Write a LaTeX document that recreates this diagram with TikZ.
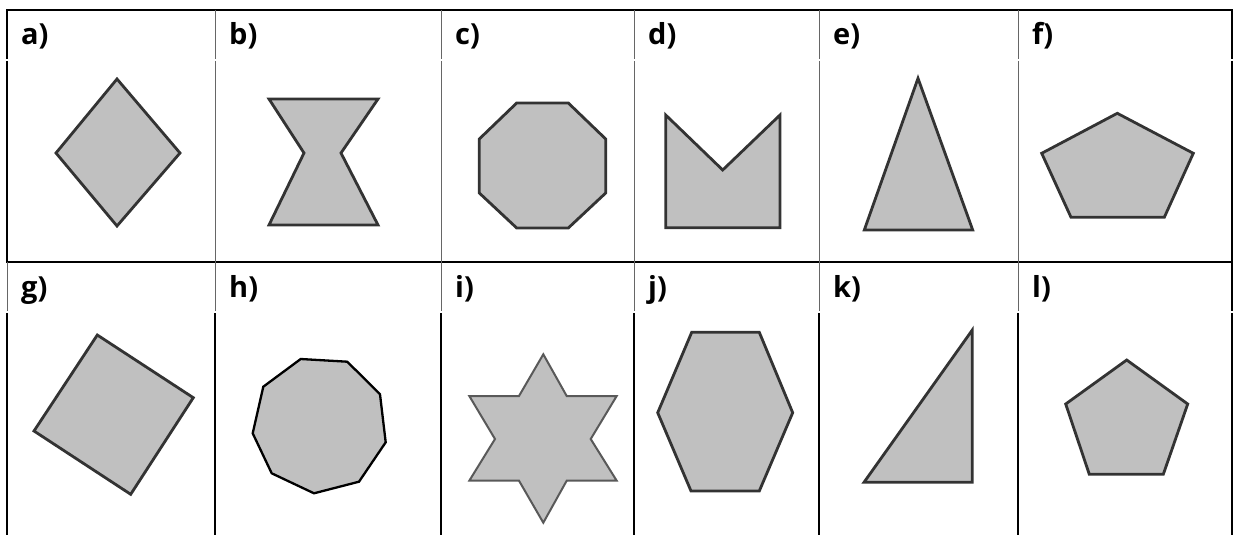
\documentclass[tikz,border=0pt]{standalone}
\usepackage{fontspec}
\usepackage{tikz}
\usepackage{xcolor}
\newfontfamily\rotulofonte{Open Sans}
\definecolor{cinza}{RGB}{192,192,192}
\definecolor{contorno}{RGB}{51,51,51}
\tikzset{
    poligono/.style={draw=contorno, fill=cinza, line width=2.8pt},
    rotulo/.style={anchor=base west, inner sep=0pt, font=\rotulofonte\bfseries\fontsize{29}{31}\selectfont},
    grossa/.style={draw=black, line width=2pt},
    fina/.style={draw=black!60, line width=1pt}
}
\begin{document}
\begin{tikzpicture}[x=1pt, y=-1pt]
    \useasboundingbox (0,0) rectangle (1234,535);
    \draw[grossa] (6,10) -- (1233,10);
    \draw[grossa] (6,262) -- (1233,262);
    \draw[grossa] (7,10) -- (7,59) (7,61) -- (7,262);
    \draw[grossa] (1232,10) -- (1232,59) (1232,61) -- (1232,311) (1232,313) -- (1232,535);
    \draw[fina] (215,10) -- (215,59) (215,61) -- (215,262) (441,10) -- (441,59) (441,61) -- (441,262)
        (634,10) -- (634,59) (634,61) -- (634,262) (819,10) -- (819,59) (819,61) -- (819,262)
        (1018,10) -- (1018,59) (1018,61) -- (1018,262);
    \draw[fina] (7,262) -- (7,311) (215,262) -- (215,311) (441,262) -- (441,311)
        (634,262) -- (634,311) (819,262) -- (819,311) (1018,262) -- (1018,311);
    \draw[grossa] (7,313) -- (7,535) (215,313) -- (215,535) (441,313) -- (441,535)
        (634,313) -- (634,535) (819,313) -- (819,535) (1018,313) -- (1018,535);
    \node[rotulo] (la) at (21,45) {a)};
    \node[rotulo] (lb) at (229,45) {b)};
    \node[rotulo] (lc) at (455,45) {c)};
    \node[rotulo] (ld) at (648,45) {d)};
    \node[rotulo] (le) at (833,45) {e)};
    \node[rotulo] (lf) at (1032,45) {f)};
    \node[rotulo] (lg) at (21,297) {g)};
    \node[rotulo] (lh) at (229,297) {h)};
    \node[rotulo] (li) at (455,297) {i)};
    \node[rotulo] (lj) at (648,297) {j)};
    \node[rotulo] (lk) at (833,297) {k)};
    \node[rotulo] (ll) at (1032,297) {l)};
    \draw[poligono] (117,79) -- (180,153) -- (117,226) -- (56,153) -- cycle;
    \draw[poligono] (269,99) -- (378,99) -- (341,153) -- (378,225) -- (269,225) -- (304,153) -- cycle;
    \draw[poligono] (516.7,103) -- (568.3,103) -- (605.7,139) -- (605.7,193) -- (568.3,228)
        -- (516.7,228) -- (479.3,193) -- (479.3,139) -- cycle;
    \draw[poligono] (665.7,115) -- (722.7,170) -- (780,115) -- (780,227.7) -- (665.7,227.7) -- cycle;
    \draw[poligono] (918,78.3) -- (972.7,230) -- (864.3,230) -- cycle;
    \draw[poligono] (1117.3,113.3) -- (1193.3,153.3) -- (1164.3,217.3) -- (1071,217.3) -- (1041.7,153.3) -- cycle;
    \draw[poligono] (97.3,335) -- (193.3,397.7) -- (130.7,494.3) -- (34,431) -- cycle;
    \draw[poligono, draw=black, line width=2.3pt] (300.7,359) -- (347.3,361.7) -- (380,394.3) -- (385.7,442.3)
        -- (359,481.7) -- (314,493.3) -- (271.7,473.3) -- (252.7,433.3) -- (263.3,386.7) -- cycle;
    \draw[poligono, draw=black!65, line width=2pt] (543.3,354.3) -- (566.7,396) -- (616.7,396) -- (590.7,439)
        -- (616.7,480.7) -- (566.7,480.7) -- (543.3,522.7) -- (519,480.7) -- (469.3,480.7)
        -- (495,439) -- (469.3,396) -- (519,396) -- cycle;
    \draw[poligono] (691.7,332.3) -- (759.3,332.3) -- (792.7,412.7) -- (759.3,491) -- (691,491) -- (657.7,412.7) -- cycle;
    \draw[poligono] (972.3,330) -- (972.3,482.3) -- (864,482.3) -- cycle;
    \draw[poligono] (1126.7,360) -- (1187.7,404) -- (1163.3,474.3) -- (1089.3,474.3) -- (1065.7,404) -- cycle;
\end{tikzpicture}
\end{document}
